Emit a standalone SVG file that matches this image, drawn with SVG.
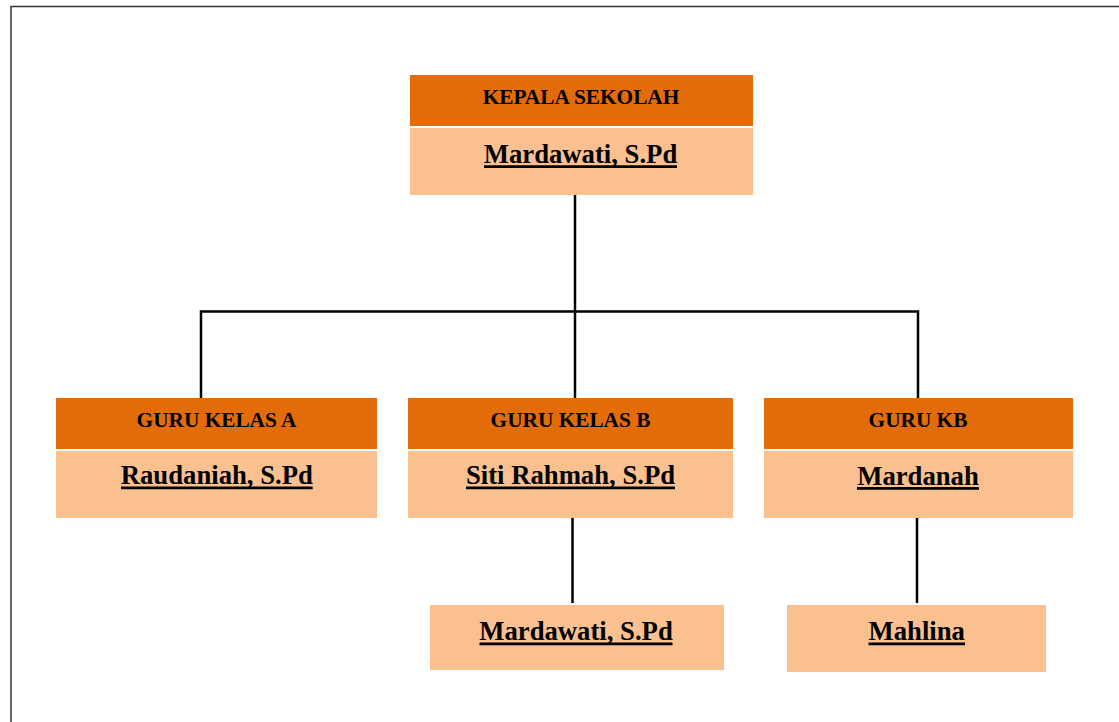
<svg xmlns="http://www.w3.org/2000/svg" width="1119" height="722" viewBox="0 0 1119 722">
<style>
.bg{fill:#ffffff}
.frame{fill:none;stroke:#333333;stroke-width:1.5}
.hd{fill:#E36C0A}
.nm{fill:#FAC090}
.ht{font-family:"Liberation Serif","Times New Roman",serif;font-weight:bold;font-size:21.3px;fill:#000;text-anchor:middle}
.nt{font-family:"Liberation Serif","Times New Roman",serif;font-weight:bold;font-size:26.7px;fill:#000;text-anchor:middle}
.ul{stroke:#000;stroke-width:2.6}
.conn{fill:none;stroke:#000;stroke-width:2.5}
</style>
<rect class="bg" x="0" y="0" width="1119" height="722"/>
<rect class="frame" x="11" y="6.5" width="1120" height="730"/>
<g id="connectors">
<path class="conn" d="M575 195 V398"/>
<path class="conn" d="M201 398 V311.5 H918 V398"/>
<path class="conn" d="M572.5 518 V603"/>
<path class="conn" d="M917 518 V603"/>
</g>
<g id="kepala-sekolah">
<rect class="hd" x="410" y="75" width="343" height="51"/>
<rect class="nm" x="410" y="128" width="343" height="67"/>
<text class="ht" x="581" y="104.3">KEPALA SEKOLAH</text>
<text class="nt" x="580.5" y="162.7">Mardawati, S.Pd</text>
<line class="ul" x1="484" y1="166.6" x2="677" y2="166.6"/>
</g>
<g id="guru-kelas-a">
<rect class="hd" x="56" y="398" width="321" height="51"/>
<rect class="nm" x="56" y="451" width="321" height="67"/>
<text class="ht" x="216.5" y="426.7">GURU KELAS A</text>
<text class="nt" x="216.8" y="484">Raudaniah, S.Pd</text>
<line class="ul" x1="121" y1="487.9" x2="312.7" y2="487.9"/>
</g>
<g id="guru-kelas-b">
<rect class="hd" x="408" y="398" width="325" height="51"/>
<rect class="nm" x="408" y="451" width="325" height="67"/>
<text class="ht" x="570.5" y="426.7">GURU KELAS B</text>
<text class="nt" x="570.5" y="484">Siti Rahmah, S.Pd</text>
<line class="ul" x1="466" y1="487.9" x2="675" y2="487.9"/>
</g>
<g id="guru-kb">
<rect class="hd" x="764" y="398" width="309" height="51"/>
<rect class="nm" x="764" y="451" width="309" height="67"/>
<text class="ht" x="918" y="426.7">GURU KB</text>
<text class="nt" x="918" y="484.5">Mardanah</text>
<line class="ul" x1="857" y1="488.4" x2="979" y2="488.4"/>
</g>
<g id="mardawati-b">
<rect class="nm" x="430" y="605" width="294" height="65"/>
<text class="nt" x="576" y="640">Mardawati, S.Pd</text>
<line class="ul" x1="479.5" y1="643.9" x2="672.5" y2="643.9"/>
</g>
<g id="mahlina">
<rect class="nm" x="787" y="605" width="259" height="67"/>
<text class="nt" x="916.7" y="640">Mahlina</text>
<line class="ul" x1="868.5" y1="643.9" x2="965" y2="643.9"/>
</g>
</svg>
